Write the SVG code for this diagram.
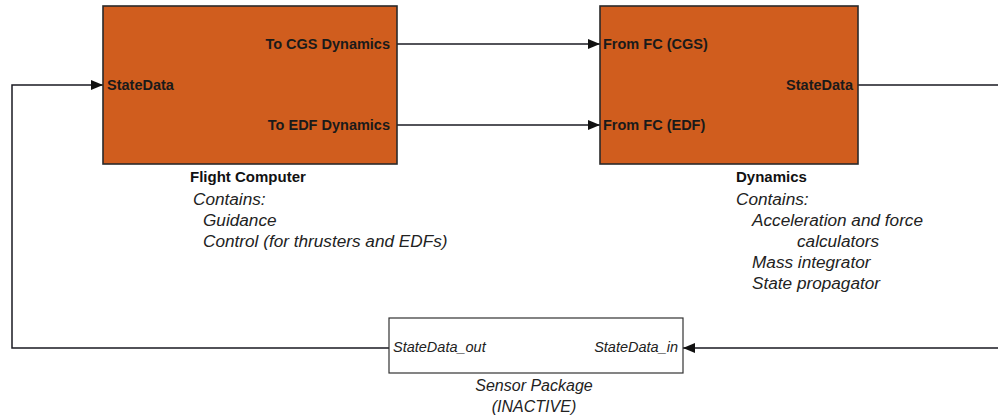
<svg xmlns="http://www.w3.org/2000/svg" width="998" height="419" viewBox="0 0 998 419">
<style>
.blk{fill:#D05D1E;stroke:#2a2a2a;stroke-width:1.6}
.sen{fill:#fff;stroke:#333;stroke-width:1.2}
.port{font-family:"Liberation Sans",Arial,sans-serif;font-weight:bold;font-size:14.5px;fill:#1a1a1a}
.title{font-family:"Liberation Sans",Arial,sans-serif;font-weight:bold;font-size:15px;fill:#111}
.desc{font-family:"Liberation Sans",Arial,sans-serif;font-style:italic;font-size:17.2px;fill:#222}
.sport{font-family:"Liberation Sans",Arial,sans-serif;font-style:italic;font-size:14.5px;fill:#222}
.conn{fill:none;stroke:#1a1a22;stroke-width:1.5}
</style>
<defs>
<marker id="arr" markerUnits="userSpaceOnUse" markerWidth="13" markerHeight="11" refX="12" refY="5" orient="auto">
<path d="M0,0 L12,5 L0,10 z" fill="#111"/>
</marker>
</defs>
<rect width="998" height="419" fill="#fff"/>
<g id="connectors">
<path class="conn" d="M397,44 H600" marker-end="url(#arr)"/>
<path class="conn" d="M397,125 H600" marker-end="url(#arr)"/>
<path class="conn" d="M858,85 H1005 V348 H683" marker-end="url(#arr)"/>
<path class="conn" d="M389,348 H12 V85 H103" marker-end="url(#arr)"/>
</g>
<g id="flight-computer">
<rect class="blk" x="103" y="6" width="294" height="158"/>
<text class="port" x="390" y="49" text-anchor="end">To CGS Dynamics</text>
<text class="port" x="107" y="90">StateData</text>
<text class="port" x="390" y="130" text-anchor="end">To EDF Dynamics</text>
<text class="title" x="190" y="182">Flight Computer</text>
<text class="desc" x="193" y="205">Contains:</text>
<text class="desc" x="203" y="226">Guidance</text>
<text class="desc" x="203" y="247">Control (for thrusters and EDFs)</text>
</g>
<g id="dynamics">
<rect class="blk" x="600" y="6" width="258" height="158"/>
<text class="port" x="603" y="49">From FC (CGS)</text>
<text class="port" x="603" y="130">From FC (EDF)</text>
<text class="port" x="853" y="90" text-anchor="end">StateData</text>
<text class="title" x="736" y="182">Dynamics</text>
<text class="desc" x="736" y="205">Contains:</text>
<text class="desc" x="752" y="226">Acceleration and force</text>
<text class="desc" x="797" y="247">calculators</text>
<text class="desc" x="752" y="268">Mass integrator</text>
<text class="desc" x="752" y="289">State propagator</text>
</g>
<g id="sensor-package">
<rect class="sen" x="389" y="318" width="294" height="55"/>
<text class="sport" x="393" y="352">StateData_out</text>
<text class="sport" x="678" y="352" text-anchor="end">StateData_in</text>
<text class="desc" x="534" y="391" text-anchor="middle" style="font-size:16px">Sensor Package</text>
<text class="desc" x="534" y="412" text-anchor="middle" style="font-size:16px">(INACTIVE)</text>
</g>
</svg>
